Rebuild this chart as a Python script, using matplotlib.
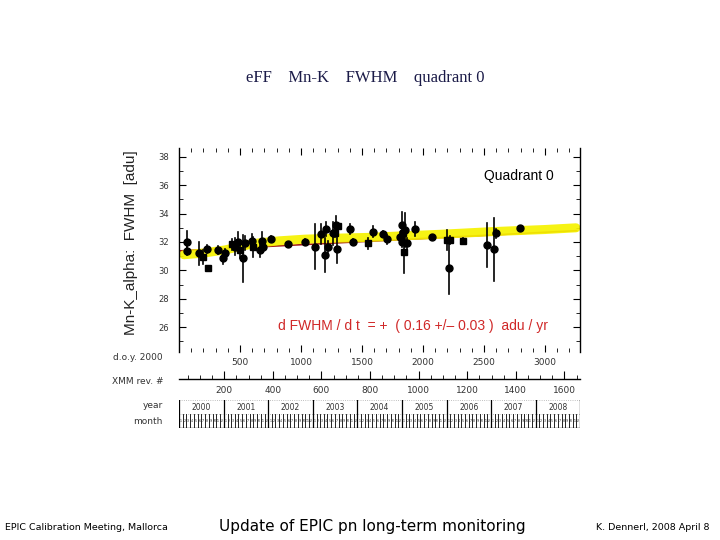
import datetime as dt
import matplotlib
matplotlib.use("Agg")
import matplotlib.pyplot as plt
from matplotlib.ticker import MultipleLocator

# ---------------- data ----------------
obs_doy = [63, 63, 164, 200, 232, 238, 322, 363, 377, 432, 459, 486, 500, 527, 541,
           601, 609, 664, 683, 691, 754, 896, 1033, 1115, 1161, 1197, 1205, 1224,
           1260, 1279, 1287, 1298, 1306, 1402, 1424, 1552, 1593, 1670, 1702, 1812,
           1825, 1825, 1839, 1844, 1852, 1866, 1934, 2071, 2200, 2225, 2216, 2331,
           2527, 2582, 2600, 2795]
obs_fwhm = [31.98, 31.39, 31.20, 30.92, 31.50, 30.14, 31.44, 30.85, 31.20, 31.84,
            31.67, 32.02, 31.44, 30.85, 31.90, 32.09, 31.67, 31.44, 32.09, 31.67,
            32.21, 31.84, 32.02, 31.67, 32.54, 31.08, 32.90, 31.67, 32.61, 32.63,
            33.20, 31.50, 33.13, 32.90, 32.02, 31.90, 32.73, 32.54, 32.19, 32.37,
            33.20, 32.02, 32.61, 31.32, 32.85, 31.90, 32.90, 32.37, 32.14, 32.14,
            30.20, 32.07, 31.79, 31.48, 32.60, 32.96]
obs_err = [0.76, 0.30, 0.80, 0.50, 0.30, 0.00, 0.30, 0.40, 0.30, 0.40,
           0.60, 0.70, 0.60, 1.65, 0.50, 0.50, 0.70, 0.50, 0.60, 0.40,
           0.20, 0.10, 0.20, 1.60, 0.70, 1.20, 0.50, 0.40, 0.80, 0.30,
           0.60, 1.00, 0.20, 0.35, 0.20, 0.40, 0.40, 0.20, 0.30, 0.30,
           0.90, 0.40, 0.40, 1.50, 1.20, 0.40, 0.50, 0.15, 0.70, 0.30,
           1.90, 0.20, 1.55, 2.20, 0.30, 0.15]
obs_marker = ['o', 'o', 'o', 's', 'o', 's', 'o', 'o', 'o', 's',
              'o', 'o', 's', 'o', 'o', 'o', 's', 'o', 'o', 'o',
              'o', 'o', 'o', 'o', 'o', 'o', 'o', 'o', 'o', 's',
              'o', 'o', 's', 'o', 'o', 's', 'o', 'o', 'o', 'o',
              'o', 'o', 's', 's', 'o', 'o', 'o', 'o', 's', 's',
              'o', 's', 'o', 'o', 'o', 'o']

smooth_doy = [40, 200, 377, 500, 650, 820, 1033, 1250, 1538, 1800, 2136, 2563, 3000, 3254]
smooth_val = [31.10, 31.22, 31.44, 31.68, 31.93, 32.08, 32.20, 32.26, 32.32, 32.42, 32.54, 32.73, 32.88, 33.00]

fit_doy = [0, 3260]
fit_val = [31.37, 32.80]

y_ticks = [26, 28, 30, 32, 34, 36, 38]
doy_ticks = [500, 1000, 1500, 2000, 2500, 3000]
rev_ticks = [200, 400, 600, 800, 1000, 1200, 1400, 1600]
years = [2000, 2001, 2002, 2003, 2004, 2005, 2006, 2007, 2008]

# ---------------- figure ----------------
W, H = 720, 540
fig = plt.figure(figsize=(7.2, 5.4), dpi=100)
fig.patch.set_facecolor("white")

def fx(px):
    return px / W

def fy(py):
    return 1 - py / H

L, R = 179, 580
XMAX = 3287.0
tick_col = "#333333"

# main axes
ax = fig.add_axes([fx(L), fy(352), fx(R - L), (352 - 148) / H])
ax.set_xlim(0, XMAX)
ax.set_ylim(24.24, 38.63)
for s in ["top", "bottom"]:
    ax.spines[s].set_visible(False)
for s in ["left", "right"]:
    ax.spines[s].set_linewidth(1.0)
ax.yaxis.set_minor_locator(MultipleLocator(1))
ax.set_yticks(y_ticks)
ax.xaxis.set_minor_locator(MultipleLocator(100))
ax.set_xticks(doy_ticks)
ax.tick_params(axis="y", which="both", direction="in", left=True, right=True,
               labelsize=6, labelcolor=tick_col, pad=7)
ax.tick_params(axis="y", which="major", length=5)
ax.tick_params(axis="y", which="minor", length=3)
ax.tick_params(axis="x", which="both", direction="in", bottom=True, top=True,
               labelsize=6.5, labelcolor=tick_col, pad=4)
ax.tick_params(axis="x", which="major", length=5)
ax.tick_params(axis="x", which="minor", length=3)

ax.plot(fit_doy, fit_val, color="#a01818", lw=1.2, zorder=1)
ax.plot(smooth_doy, smooth_val, color="#f6f200", lw=6.5, solid_capstyle="round",
        alpha=0.92, zorder=2)
for d, v, e, m in zip(obs_doy, obs_fwhm, obs_err, obs_marker):
    if e > 0:
        ax.plot([d, d], [v - e, v + e], color="black", lw=1.2, zorder=3)
    ax.plot([d], [v], marker=m, color="black", markersize=5.0 if m == 'o' else 4.6,
            zorder=4, linestyle="none")

fig.text(fx(484), fy(176), "Quadrant 0", family="Liberation Sans", fontsize=10,
         va="center", ha="left", color="black")
fig.text(fx(278), fy(326), "d FWHM / d t  = +  ( 0.16 +/\u2013 0.03 )  adu / yr",
         family="Liberation Sans", fontsize=10, va="center", ha="left", color="#d02828")

# y label
fig.text(fx(131), fy(243), "Mn-K_alpha:  FWHM  [adu]", rotation=90,
         family="Liberation Sans", fontsize=11, va="center", ha="center", color="#222222")

# XMM revolution axis
rev_lo, rev_hi = 14, 1664
ax2 = fig.add_axes([fx(L), fy(379), fx(R - L), 0.0001])
ax2.set_xlim(rev_lo, rev_hi)
ax2.set_ylim(0, 1)
for s in ["top", "left", "right"]:
    ax2.spines[s].set_visible(False)
ax2.spines["bottom"].set_linewidth(1.0)
ax2.set_yticks([])
ax2.set_xticks(rev_ticks)
ax2.xaxis.set_minor_locator(MultipleLocator(50))
ax2.tick_params(axis="x", which="both", direction="in", labelsize=6.5,
                labelcolor=tick_col, pad=5)
ax2.tick_params(axis="x", which="major", length=6)
ax2.tick_params(axis="x", which="minor", length=3)
ax2.patch.set_visible(False)

# year / month strip
ax3 = fig.add_axes([fx(L), fy(428), fx(R - L), (428 - 400) / H])
ax3.set_xlim(0, XMAX)
ax3.set_ylim(0, 2)
ax3.axis("off")

def doy_of(y, m):
    return (dt.date(y, m, 1) - dt.date(2000, 1, 1)).days + 1

ax3.plot([0, XMAX], [0, 0], color="black", lw=1.0)
ax3.plot([0, XMAX], [2, 2], color="#aaaaaa", lw=0.6, ls=":")
ax3.plot([0, XMAX], [1, 1], color="#aaaaaa", lw=0.6, ls=":")
for y in years:
    y0 = doy_of(y, 1)
    y1 = min(doy_of(y + 1, 1), XMAX)
    ax3.plot([y0, y0], [0, 2], color="black", lw=0.9)
    ax3.text((y0 + y1) / 2, 1.5, str(y), fontsize=5.5, ha="center", va="center",
             color=tick_col)
    for m in range(1, 13):
        m0 = doy_of(y, m)
        if m0 >= XMAX:
            break
        m1 = doy_of(y + 1, 1) if m == 12 else doy_of(y, m + 1)
        ax3.plot([m0, m0], [0, 1], color="black", lw=0.6)
        ax3.text((m0 + min(m1, XMAX)) / 2, 0.5, str(m), fontsize=2.3, ha="center",
                 va="center", color="#222222")
ax3.plot([XMAX, XMAX], [0, 2], color="black", lw=0.9)

# row labels
for lab, py in [("d.o.y. 2000", 358), ("XMM rev. #", 381), ("year", 406), ("month", 421)]:
    fig.text(fx(163), fy(py), lab, fontsize=6.5, ha="right", va="center", color=tick_col)

# title
fig.text(fx(365), fy(78), "eFF    Mn-K    FWHM    quadrant 0", family="Liberation Serif",
         fontsize=12, ha="center", va="center", color="#1b1b48")

# footer
fig.text(fx(5), fy(527), "EPIC Calibration Meeting, Mallorca", fontsize=6.8,
         ha="left", va="center", color="black")
fig.text(fx(372), fy(527), "Update of EPIC pn long-term monitoring", fontsize=11,
         ha="center", va="center", color="black")
fig.text(fx(710), fy(527), "K. Dennerl, 2008 April 8", fontsize=6.8,
         ha="right", va="center", color="black")

fig.savefig("out.png", dpi=100)
